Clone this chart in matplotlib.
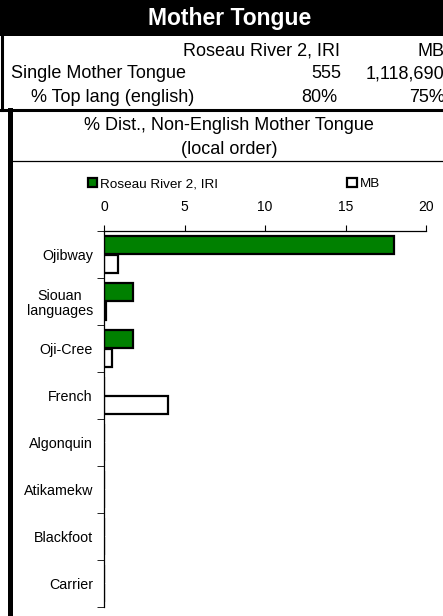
import matplotlib
matplotlib.use('Agg')
import matplotlib.pyplot as plt
from matplotlib.patches import Rectangle
from matplotlib.lines import Line2D

plt.rcParams['font.family'] = ['Liberation Sans', 'DejaVu Sans']

languages = ['Ojibway', 'Siouan\nlanguages', 'Oji-Cree', 'French',
             'Algonquin', 'Atikamekw', 'Blackfoot', 'Carrier']
local_pct = [18.0, 1.8, 1.8, 0, 0, 0, 0, 0]
mb_pct = [0.85, 0.1, 0.5, 4.0, 0, 0, 0, 0]
local_name = 'Roseau River 2, IRI'
prov_name = 'MB'
single_mt = ['555', '1,118,690']
top_lang = ['80%', '75%']

W, H = 443, 616
fig = plt.figure(figsize=(W / 100, H / 100), dpi=100)

def fx(x):
    return x / W

def fy(y):
    return 1 - y / H

def hline(x0, x1, y, lw):
    fig.lines.append(Line2D([fx(x0), fx(x1)], [fy(y), fy(y)],
                            transform=fig.transFigure, color='black', linewidth=lw))

def vline(x, y0, y1, lw):
    fig.lines.append(Line2D([fx(x), fx(x)], [fy(y0), fy(y1)],
                            transform=fig.transFigure, color='black', linewidth=lw))

# title band
fig.patches.append(Rectangle((0, fy(36)), 1, 36 / H, transform=fig.transFigure,
                             facecolor='black', edgecolor='none'))
fig.text(fx(230), fy(18.5), 'Mother Tongue', color='white', fontsize=16.5,
         fontweight='bold', ha='center', va='center')

# header rows
fs = 13
fig.text(fx(340), fy(51), local_name, fontsize=fs, ha='right', va='center')
fig.text(fx(445), fy(51), prov_name, fontsize=fs, ha='right', va='center')
fig.text(fx(11), fy(74), 'Single Mother Tongue', fontsize=fs, ha='left', va='center')
fig.text(fx(341), fy(74), single_mt[0], fontsize=fs, ha='right', va='center')
fig.text(fx(444), fy(74), single_mt[1], fontsize=fs, ha='right', va='center')
fig.text(fx(31), fy(97), '% Top lang (english)', fontsize=fs, ha='left', va='center')
fig.text(fx(337), fy(97), top_lang[0], fontsize=fs, ha='right', va='center')
fig.text(fx(445), fy(97), top_lang[1], fontsize=fs, ha='right', va='center')

vline(1.5, 36, 110, 2.2)
hline(0, W, 110, 2.2)
vline(9.5, 110, H, 3.6)
fig.text(fx(229), fy(126), '% Dist., Non-English Mother Tongue', fontsize=fs,
         ha='center', va='center')
fig.text(fx(229), fy(149), '(local order)', fontsize=fs, ha='center', va='center')
hline(11, W, 160.5, 0.9)

# chart
ax = fig.add_axes([fx(104), fy(607), fx(426) - fx(104), (607 - 231) / H])
pos = list(range(len(languages)))
ax.barh([p - 0.2 for p in pos], local_pct, height=0.39, color='#008000',
        edgecolor='black', linewidth=1.6, label=local_name)
ax.barh([p + 0.2 for p in pos], mb_pct, height=0.39, color='white',
        edgecolor='black', linewidth=1.6, label=prov_name)
ax.set_xlim(0, 20)
ax.set_ylim(len(languages) - 0.5, -0.5)
ax.set_xticks([0, 5, 10, 15, 20])
ax.xaxis.tick_top()
ax.set_yticks(pos)
ax.set_yticklabels(languages, ha='right', multialignment='center', linespacing=1.1)
ax.set_yticks([p + 0.5 for p in range(-1, len(languages))], minor=True)
ax.tick_params(axis='y', which='major', length=0, pad=8, labelsize=10.3)
ax.tick_params(axis='y', which='minor', length=5, direction='out')
ax.tick_params(axis='x', length=4, direction='out', labelsize=10, pad=8)
for s in ['right', 'bottom']:
    ax.spines[s].set_visible(False)
ax.spines['left'].set_linewidth(0.9)
ax.spines['top'].set_linewidth(0.9)

fig.legend(loc='center left', bbox_to_anchor=(fx(88), fy(184)), ncol=2,
           frameon=False, fontsize=9.7, handlelength=0.7, handleheight=0.7,
           handletextpad=0.2, columnspacing=9.6, borderaxespad=0, borderpad=0)

plt.savefig('out.png', dpi=100)
